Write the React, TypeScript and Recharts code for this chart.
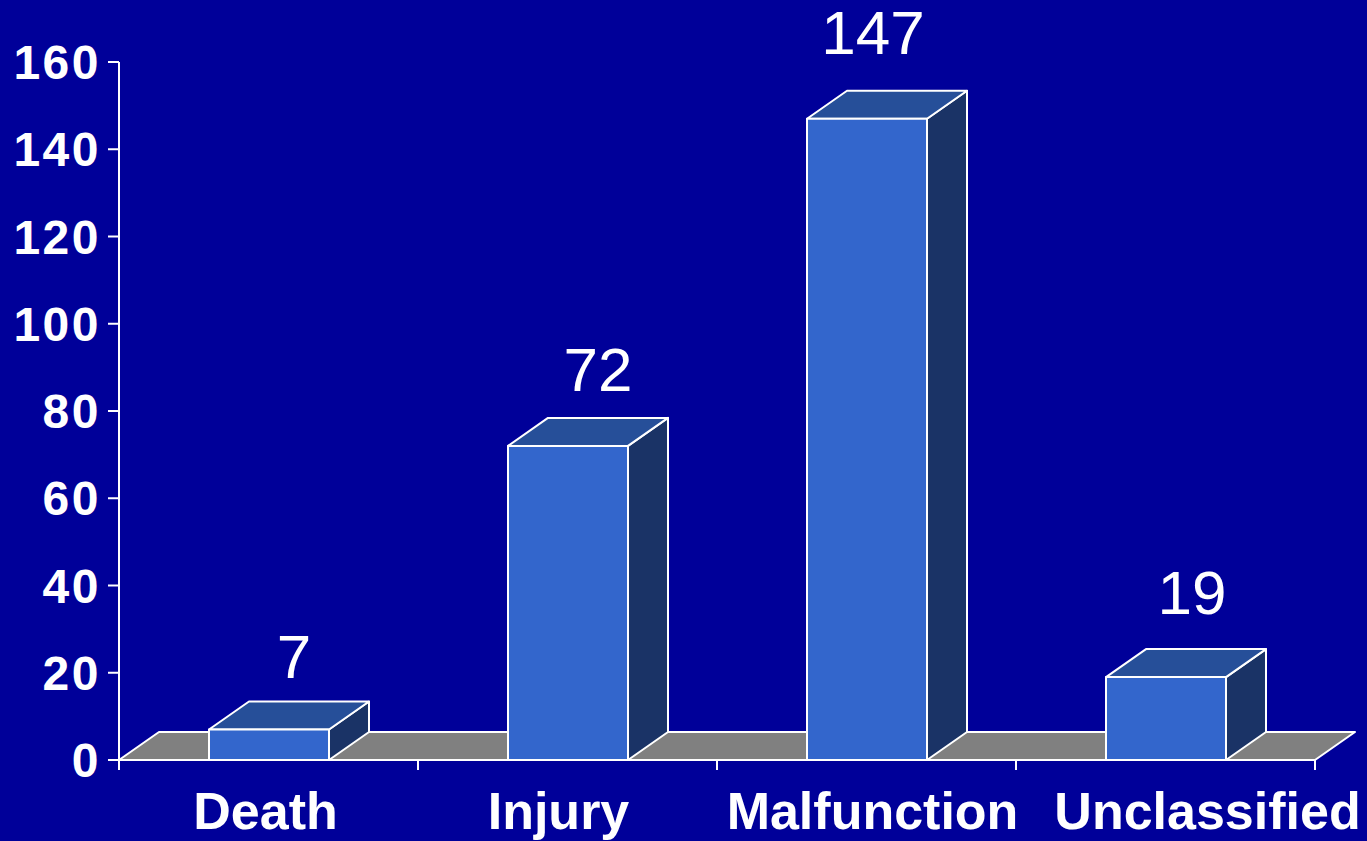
import React from 'react';
import { BarChart, Bar, XAxis, YAxis, LabelList, Customized, usePlotArea } from 'recharts';

const categories = ['Death', 'Injury', 'Malfunction', 'Unclassified'];
const counts = [7, 72, 147, 19];
const yTicks = [0, 20, 40, 60, 80, 100, 120, 140, 160];

const data = categories.map((name, i) => ({ name, count: counts[i] }));

const BG = '#000099';
const FRONT = '#3366CC';
const TOP = '#264F99';
const SIDE = '#1A3366';
const FLOOR = '#808080';
const DX = 40;
const DY = 28;
const FONT = '"Liberation Sans", Arial, Helvetica, sans-serif';

// small hand placement nudges, as in the original slide
const VALUE_NUDGE = [[1, 5], [6, 1], [-18, -9], [2, -7]];
const NAME_NUDGE = [-3, -9, 6, 42];

const Box3D = (props: any) => {
  const { x, y, width: w, height: h } = props;
  if (w == null || h == null) return null;
  return (
    <g stroke="#ffffff" strokeWidth={2} strokeLinejoin="round">
      <polygon points={`${x + w},${y} ${x + w + DX},${y - DY} ${x + w + DX},${y + h - DY} ${x + w},${y + h}`} fill={SIDE} />
      <polygon points={`${x},${y} ${x + DX},${y - DY} ${x + w + DX},${y - DY} ${x + w},${y}`} fill={TOP} />
      <rect x={x} y={y} width={w} height={h} fill={FRONT} />
    </g>
  );
};

// grey floor plane plus the boundary ticks of the category axis
const Floor = () => {
  const area = usePlotArea();
  if (!area) return null;
  const L = area.x;
  const R = area.x + area.width;
  const B = area.y + area.height;
  const band = area.width / categories.length;
  const ticks = Array.from({ length: categories.length + 1 }, (_, i) => L + i * band);
  return (
    <g>
      <polygon
        points={`${L},${B} ${L + DX},${B - DY} ${R + DX},${B - DY} ${R},${B}`}
        fill={FLOOR}
        stroke="#ffffff"
        strokeWidth={2}
        strokeLinejoin="round"
      />
      {ticks.map((t, i) => (
        <line key={i} x1={t} x2={t} y1={B} y2={B + 10} stroke="#ffffff" strokeWidth={2} />
      ))}
    </g>
  );
};

const ValueLabel = (props: any) => {
  const { x, y, width, value, index } = props;
  const [nx, ny] = VALUE_NUDGE[index] || [0, 0];
  return (
    <text x={x + width / 2 + 24 + nx} y={y - DY - 28 + ny} fill="#ffffff" fontSize={62} fontFamily={FONT} textAnchor="middle">
      {value}
    </text>
  );
};

const CategoryTick = (props: any) => {
  const { x, y, payload, index } = props;
  return (
    <text x={x + (NAME_NUDGE[index] || 0)} y={y + 67} fill="#ffffff" fontSize={52} fontWeight="bold" fontFamily={FONT} textAnchor="middle">
      {payload.value}
    </text>
  );
};

export default function App() {
  return (
    <div style={{ position: 'fixed', left: 0, top: 0, width: 1367, height: 841, background: BG }}>
      <BarChart
        width={1367}
        height={841}
        data={data}
        margin={{ top: 62, right: 52, bottom: 0, left: 0 }}
        barCategoryGap={0}
      >
        <Customized component={<Floor />} />
        <XAxis
          dataKey="name"
          height={81}
          tickLine={false}
          tickSize={0}
          axisLine={{ stroke: '#ffffff', strokeWidth: 2 }}
          tick={<CategoryTick />}
          interval={0}
        />
        <YAxis
          width={119}
          domain={[0, 160]}
          ticks={yTicks}
          interval={0}
          tickSize={11}
          tickMargin={7}
          tickLine={{ stroke: '#ffffff', strokeWidth: 2 }}
          axisLine={{ stroke: '#ffffff', strokeWidth: 2 }}
          tick={{ fill: '#ffffff', fontSize: 48, fontWeight: 'bold', fontFamily: FONT, letterSpacing: 2.5 }}
        />
        <Bar dataKey="count" barSize={120} shape={<Box3D />} isAnimationActive={false}>
          <LabelList dataKey="count" content={<ValueLabel />} />
        </Bar>
      </BarChart>
    </div>
  );
}
